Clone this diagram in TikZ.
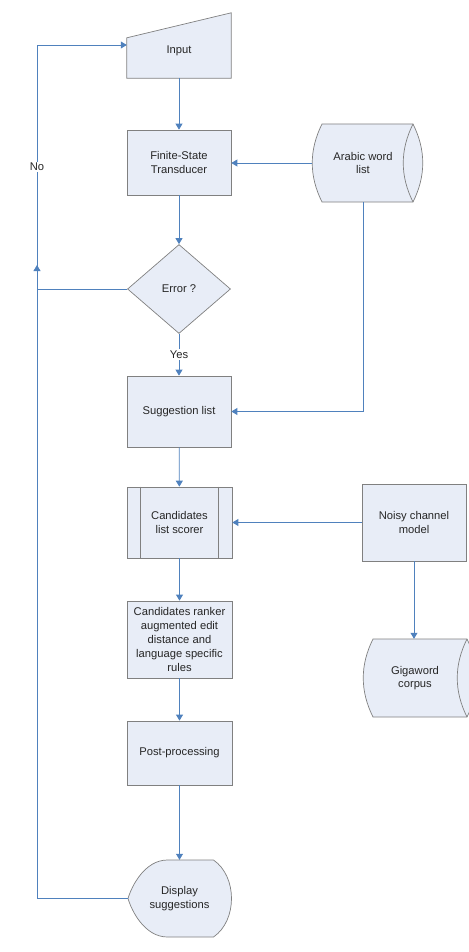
\documentclass[tikz,border=0pt]{standalone}
\usepackage{fontspec}
\setmainfont{Liberation Sans}
\usetikzlibrary{arrows.meta,shapes.geometric,calc,backgrounds}
\definecolor{boxfill}{HTML}{E8EDF7}
\definecolor{boxline}{HTML}{808080}
\definecolor{flowblue}{HTML}{4F81BD}
\begin{document}
\begin{tikzpicture}[x=1pt,y=-1pt,
    font=\fontsize{11.2}{13.8}\selectfont,
    box/.style={draw=boxline,fill=boxfill,line width=0.7pt,align=center,
        minimum width=104pt,inner sep=1pt,text=black!85},
    free/.style={align=center,minimum width=104pt,inner sep=1pt,text=black!85},
    outline/.style={draw=boxline,fill=boxfill,line width=0.7pt},
    flow/.style={draw=flowblue,line width=0.8pt,-{Triangle[width=7pt,length=6pt]}},
    lbl/.style={fill=white,inner sep=1.5pt,text=black!85}]
    \useasboundingbox (0,0) rectangle (468,952);

    % main column
    \node[free,minimum height=54pt] (input) at (179,51) {Input};
    \node[box,minimum height=65pt] (fst) at (179,162.5) {Finite-State\\Transducer};
    \node[diamond,draw=boxline,fill=boxfill,line width=0.7pt,text=black!85,
        minimum width=103pt,minimum height=89pt,inner sep=0pt] (error) at (179,289) {Error ?};
    \node[box,minimum height=71pt] (sugg) at (179,411.5) {Suggestion list};
    \node[box,minimum width=105pt,minimum height=71pt] (scorer) at (179.5,522.5) {Candidates\\list scorer};
    \node[box,minimum width=105pt,minimum height=77pt] (ranker) at (179.5,639.5)
        {Candidates ranker\\augmented edit\\distance and\\language specific\\rules};
    \node[box,minimum width=105pt,minimum height=64pt] (post) at (179.5,753) {Post-processing};
    \node[free,minimum width=103pt,minimum height=77pt] (display) at (179.5,898.5) {Display\\suggestions};

    % right column
    \node[free,minimum width=102pt,minimum height=78pt] (arabic) at (363,163) {Arabic word\\list};
    \node[box,minimum height=77pt] (noisy) at (414,522.5) {Noisy channel\\model};
    \node[free,minimum width=104pt,minimum height=78pt] (gigaword) at (415,678) {Gigaword\\corpus};

    % outlines of the special shapes
    \begin{scope}[on background layer]
    \draw[outline] (input.south west) -- (input.south east) -- ($(input.north east)+(0,-11)$)
        -- ($(input.north west)+(0,14)$) -- cycle;
    \begin{scope}[shift={(arabic.center)}]
    \draw[outline] (-41,-39) -- (50,-39) .. controls (63,-13) and (63,13) .. (50,39) -- (-41,39)
        .. controls (-54,13) and (-54,-13) .. (-41,-39) -- cycle;
    \draw[boxline,line width=0.7pt] (50,-39) .. controls (37,-13) and (37,13) .. (50,39);
    \end{scope}
    \begin{scope}[shift={(gigaword.center)}]
    \draw[outline] (-42,-39) -- (52,-39) .. controls (65,-13) and (65,13) .. (52,39) -- (-42,39)
        .. controls (-55,13) and (-55,-13) .. (-42,-39) -- cycle;
    \draw[boxline,line width=0.7pt] (52,-39) .. controls (39,-13) and (39,13) .. (52,39);
    \end{scope}
    \begin{scope}[shift={(display.center)}]
    \draw[outline] (-12,-38.5) -- (34,-38.5) .. controls (58,-22) and (58,22) .. (34,38.5) -- (-12,38.5)
        .. controls (-35,38.5) and (-48,12) .. (-51.5,0)
        .. controls (-48,-12) and (-35,-38.5) .. (-12,-38.5) -- cycle;
    \end{scope}
    \end{scope}
    \draw[boxline,line width=0.7pt] ($(scorer.north west)+(14,0)$) -- ($(scorer.south west)+(14,0)$);
    \draw[boxline,line width=0.7pt] ($(scorer.north east)+(-14,0)$) -- ($(scorer.south east)+(-14,0)$);

    % connectors
    \coordinate (nocorner) at (37,45);
    \coordinate (backup) at (37,265);
    \draw[flow] (input) -- (fst);
    \draw[flow] (arabic.west) -- (arabic.west -| fst.east);
    \draw[flow] (fst) -- (error);
    \draw[flow] (error) -- node[lbl] {Yes} (sugg);
    \draw[flow] (arabic.south) |- (sugg.east);
    \draw[flow] (sugg) -- (scorer);
    \draw[flow] (noisy.west) -- (noisy.west -| scorer.east);
    \draw[flow] (scorer) -- (ranker);
    \draw[flow] (ranker) -- (post);
    \draw[flow] (post) -- (display);
    \draw[flow] (noisy.south) -- (noisy.south |- gigaword.north);
    \draw[flow] (error.west) -- (error.west -| nocorner) -- node[lbl] {No} (nocorner)
        -- (nocorner -| input.west);
    \draw[flow] (display.west) -| (backup);
\end{tikzpicture}
\end{document}
